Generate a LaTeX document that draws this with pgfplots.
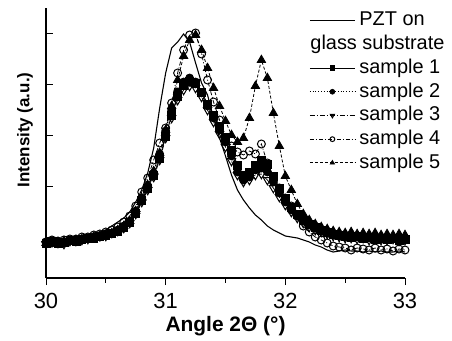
\documentclass[border=0pt]{standalone}
\usepackage{pgfplots}
\pgfplotsset{compat=1.18}
\usepackage{pgfplotstable}
\usepackage{fontspec}
\setmainfont{Liberation Sans}

\pgfplotstableread{
x y
30.00 37
30.05 38
30.10 37
30.15 39
30.20 39
30.25 41
30.30 42
30.35 43
30.40 45
30.45 46
30.50 48
30.55 52
30.60 56
30.65 60
30.70 66
30.75 76
30.80 88
30.85 105
30.90 130
30.95 170
31.00 205
31.05 230
31.10 236
31.15 244
31.20 236
31.25 215
31.30 195
31.35 183
31.40 160
31.45 140
31.50 122
31.55 103
31.60 88
31.65 78
31.70 70
31.75 63
31.80 58
31.85 52
31.90 48
31.95 45
32.00 42
32.05 41
32.10 40
32.15 38
32.20 36
32.25 33
32.30 31
32.35 28
32.40 26
32.45 27
32.50 28
32.55 27
32.60 27
32.65 26
32.70 27
32.75 26
32.80 27
32.85 26
32.90 26
32.95 27
33.00 26
}\pzt

\pgfplotstableread{
x y
30.00 35
30.05 37
30.10 35
30.15 36
30.20 38
30.25 37
30.30 39
30.35 40
30.40 40
30.45 42
30.50 43
30.55 45
30.60 47
30.65 51
30.70 56
30.75 65
30.80 78
30.85 90
30.90 103
30.95 120
31.00 142
31.05 163
31.10 182
31.15 193
31.20 197
31.25 195
31.30 186
31.35 174
31.40 163
31.45 152
31.50 141
31.55 128
31.60 113
31.65 103
31.70 106
31.75 113
31.80 118
31.85 114
31.90 102
31.95 90
32.00 80
32.05 71
32.10 64
32.15 58
32.20 54
32.25 51
32.30 48
32.35 46
32.40 44
32.45 43
32.50 42
32.55 41
32.60 42
32.65 40
32.70 41
32.75 39
32.80 40
32.85 39
32.90 40
32.95 38
33.00 39
}\sA

\pgfplotstableread{
x y
30.00 36
30.05 35
30.10 37
30.15 36
30.20 37
30.25 39
30.30 38
30.35 40
30.40 41
30.45 41
30.50 44
30.55 45
30.60 48
30.65 52
30.70 57
30.75 67
30.80 80
30.85 92
30.90 105
30.95 124
31.00 147
31.05 168
31.10 186
31.15 196
31.20 200
31.25 196
31.30 185
31.35 172
31.40 160
31.45 148
31.50 136
31.55 122
31.60 106
31.65 98
31.70 101
31.75 108
31.80 110
31.85 106
31.90 96
31.95 85
32.00 76
32.05 68
32.10 62
32.15 57
32.20 53
32.25 50
32.30 48
32.35 45
32.40 44
32.45 43
32.50 42
32.55 42
32.60 41
32.65 41
32.70 40
32.75 41
32.80 39
32.85 40
32.90 39
32.95 39
33.00 38
}\sB

\pgfplotstableread{
x y
30.00 34
30.05 36
30.10 35
30.15 34
30.20 37
30.25 37
30.30 38
30.35 39
30.40 41
30.45 42
30.50 42
30.55 45
30.60 47
30.65 50
30.70 55
30.75 64
30.80 76
30.85 88
30.90 101
30.95 118
31.00 140
31.05 160
31.10 178
31.15 188
31.20 192
31.25 190
31.30 181
31.35 168
31.40 156
31.45 144
31.50 131
31.55 117
31.60 103
31.65 96
31.70 98
31.75 103
31.80 104
31.85 98
31.90 90
31.95 81
32.00 73
32.05 66
32.10 60
32.15 55
32.20 51
32.25 48
32.30 46
32.35 44
32.40 42
32.45 41
32.50 40
32.55 40
32.60 39
32.65 40
32.70 38
32.75 39
32.80 38
32.85 38
32.90 39
32.95 37
33.00 38
}\sC

\pgfplotstableread{
x y
30.00 36
30.05 38
30.10 36
30.15 38
30.20 39
30.25 38
30.30 41
30.35 41
30.40 43
30.45 44
30.50 46
30.55 48
30.60 51
30.65 56
30.70 62
30.75 72
30.80 86
30.85 100
30.90 118
30.95 135
31.00 150
31.05 175
31.10 205
31.15 228
31.20 243
31.25 245
31.30 224
31.35 198
31.40 176
31.45 158
31.50 140
31.55 132
31.60 126
31.65 123
31.70 127
31.75 124
31.80 134
31.85 115
31.90 98
31.95 90
32.00 80
32.05 72
32.10 62
32.15 52
32.20 46
32.25 41
32.30 38
32.35 35
32.40 32
32.45 31
32.50 30
32.55 28
32.60 30
32.65 29
32.70 28
32.75 30
32.80 28
32.85 29
32.90 27
32.95 29
33.00 28
}\sD

\pgfplotstableread{
x y
30.00 35
30.05 36
30.10 36
30.15 37
30.20 36
30.25 38
30.30 39
30.35 39
30.40 41
30.45 42
30.50 43
30.55 45
30.60 48
30.65 52
30.70 57
30.75 67
30.80 80
30.85 93
30.90 107
30.95 125
31.00 148
31.05 172
31.10 198
31.15 222
31.20 238
31.25 243
31.30 228
31.35 210
31.40 190
31.45 172
31.50 157
31.55 143
31.60 136
31.65 140
31.70 160
31.75 192
31.80 218
31.85 200
31.90 165
31.95 132
32.00 102
32.05 88
32.10 74
32.15 64
32.20 58
32.25 54
32.30 51
32.35 49
32.40 47
32.45 46
32.50 45
32.55 46
32.60 44
32.65 45
32.70 44
32.75 45
32.80 43
32.85 44
32.90 43
32.95 44
33.00 43
}\sE

\begin{document}
\begin{tikzpicture}
\path[use as bounding box] (-46bp,-63bp) rectangle (406bp,278bp);
\begin{axis}[
  scale only axis,
  width=359bp, height=270bp,
  xmin=30, xmax=33, ymin=0, ymax=270,
  axis x line*=bottom, axis y line*=left,
  axis line style={line width=1.1pt},
  xtick={30,31,32,33},
  minor xtick={30.5,31.5,32.5},
  xtick align=outside, ytick align=inside,
  major tick length=7bp, minor tick length=4.5bp,
  ytick={40.5,91.5,142.5,193.5,244.7},
  yticklabels={},
  tick style={line width=1pt, black},
  /pgf/number format/assume math mode=true,
  ticklabel style={font=\fontsize{22}{26}\selectfont},
  xticklabel style={yshift=-5bp},
  xlabel={\bfseries Angle 2Θ (°)},
  xlabel style={font=\fontsize{21}{25}\selectfont, at={(axis description cs:0.5,-0.2)}, anchor=base},
  ylabel={\bfseries Intensity (a.u.)},
  ylabel style={font=\fontsize{17}{20}\selectfont, at={(axis description cs:-0.0585,0.548)}, anchor=center},
  legend cell align=left,
  legend image code/.code={\draw[mark repeat=2,mark phase=2,#1,mark size=2.4pt] plot coordinates {(0bp,0bp) (22.5bp,0bp) (45bp,0bp)}; \path (49bp,0bp);},
  legend style={draw=none, fill=none, inner sep=0pt, row sep=4.2bp,
    font=\fontsize{20}{24}\selectfont,
    nodes={inner sep=0pt, text height=15bp, text depth=4.5bp},
    at={(axis description cs:0.733,0.99)}, anchor=north west},
]
\addplot[black, line width=1.1pt] table[x=x,y=y]{\pzt};
\addlegendentry{PZT on}
\addlegendimage{empty legend}
\addlegendentry{\hspace*{-49bp}glass substrate}
\addplot[black, line width=0.8pt, mark=square*, mark size=4pt, mark options={solid}] table[x=x,y=y]{\sA};
\addlegendentry{sample 1}
\addplot[black, line width=0.8pt, dotted, mark=*, mark size=4pt, mark options={solid}] table[x=x,y=y]{\sB};
\addlegendentry{sample 2}
\addplot[black, line width=0.8pt, dash pattern=on 5pt off 2pt on 1pt off 2pt, mark=triangle, mark size=4.8pt, mark options={solid, rotate=180, fill=white, line width=1pt}] table[x=x,y=y]{\sC};
\addlegendentry{sample 3}
\addplot[black, line width=0.8pt, dash pattern=on 4pt off 2pt on 1pt off 2pt, mark=o, mark size=4pt, mark options={solid, fill=white, line width=1pt}] table[x=x,y=y]{\sD};
\addlegendentry{sample 4}
\addplot[black, line width=0.8pt, dash pattern=on 3pt off 2pt, mark=triangle*, mark size=4.8pt, mark options={solid}] table[x=x,y=y]{\sE};
\addlegendentry{sample 5}
\end{axis}
\end{tikzpicture}
\end{document}
